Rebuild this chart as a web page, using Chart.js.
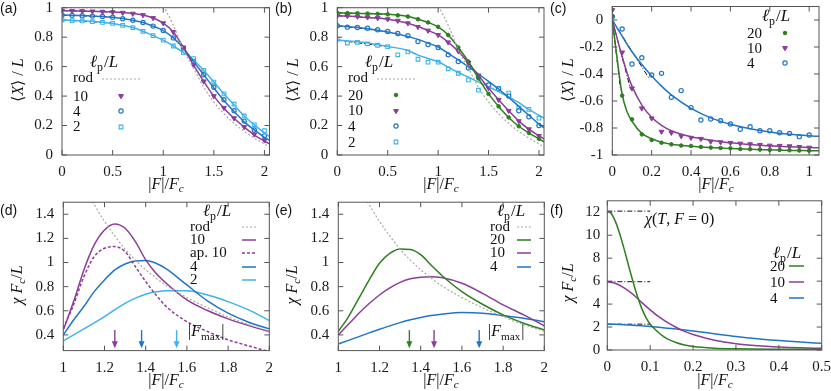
<!DOCTYPE html>
<html>
<head>
<meta charset="utf-8">
<script src="https://cdn.jsdelivr.net/npm/chart.js@4.4.1/dist/chart.umd.min.js"></script>
<style>
  body { margin: 0; background: #fff; width: 831px; height: 391px; position: relative; overflow: hidden; font-family: "Liberation Serif", serif; color: #111; }
  canvas { position: absolute; }
  .lab { position: absolute; font: 14px "Liberation Sans", sans-serif; }
  .ttl { position: absolute; font-size: 16px; white-space: nowrap; transform: translate(-50%, -50%); }
  .ttl.v { transform: translate(-50%, -50%) rotate(-90deg); }
  sub { font-size: 70%; vertical-align: -3px; line-height: 0; }
</style>
</head>
<body>
<canvas id="pa" width="275" height="195" style="left:0;top:0"></canvas>
<canvas id="pb" width="275" height="195" style="left:275px;top:0"></canvas>
<canvas id="pc" width="281" height="195" style="left:550px;top:0"></canvas>
<canvas id="pd" width="275" height="196" style="left:0;top:195px"></canvas>
<canvas id="pe" width="275" height="196" style="left:275px;top:195px"></canvas>
<canvas id="pf" width="281" height="196" style="left:550px;top:195px"></canvas>

<div class="lab" style="left:0;top:0">(a)</div>
<div class="lab" style="left:275px;top:0">(b)</div>
<div class="lab" style="left:550px;top:0">(c)</div>
<div class="lab" style="left:0;top:202px">(d)</div>
<div class="lab" style="left:275px;top:202px">(e)</div>
<div class="lab" style="left:550px;top:202px">(f)</div>

<div class="ttl v" style="left:17px;top:80px">⟨<i>X</i>⟩ / <i>L</i></div>
<div class="ttl v" style="left:292px;top:80px">⟨<i>X</i>⟩ / <i>L</i></div>
<div class="ttl v" style="left:567px;top:80px">⟨<i>X</i>⟩ / <i>L</i></div>
<div class="ttl v" style="left:17px;top:285px"><i>χ F<sub>c</sub></i>/<i>L</i></div>
<div class="ttl v" style="left:292px;top:285px"><i>χ F<sub>c</sub></i>/<i>L</i></div>
<div class="ttl v" style="left:568px;top:283px"><i>χ F<sub>c</sub></i>/<i>L</i></div>
<div class="ttl" style="left:166px;top:184px">|<i>F</i>|/<i>F<sub>c</sub></i></div>
<div class="ttl" style="left:441px;top:184px">|<i>F</i>|/<i>F<sub>c</sub></i></div>
<div class="ttl" style="left:716px;top:184px">|<i>F</i>|/<i>F<sub>c</sub></i></div>
<div class="ttl" style="left:166px;top:380px">|<i>F</i>|/<i>F<sub>c</sub></i></div>
<div class="ttl" style="left:441px;top:380px">|<i>F</i>|/<i>F<sub>c</sub></i></div>
<div class="ttl" style="left:715px;top:380px">|<i>F</i>|/<i>F<sub>c</sub></i></div>

<script>
// ---------- data ----------
// (a), (b): simulation points every 0.1 and fitted curves
const xMC = [0,0.1,0.2,0.3,0.4,0.5,0.6,0.7,0.8,0.9,1.0,1.1,1.2,1.3,1.4,1.5,1.6,1.7,1.8,1.9,2.0];
const aMC10 = [0.98,0.978,0.977,0.975,0.973,0.97,0.966,0.96,0.95,0.93,0.895,0.835,0.73,0.61,0.50,0.40,0.32,0.25,0.19,0.14,0.10];
const aMC4 = [0.95,0.948,0.946,0.943,0.94,0.935,0.925,0.915,0.9,0.875,0.845,0.795,0.725,0.635,0.545,0.46,0.375,0.30,0.23,0.17,0.13];
const aMC2 = [0.917,0.913,0.91,0.905,0.9,0.893,0.88,0.865,0.84,0.81,0.78,0.74,0.695,0.655,0.575,0.495,0.415,0.345,0.265,0.205,0.165];
const xFit = [0,0.25,0.5,0.7,0.8,0.9,1.0,1.1,1.2,1.3,1.4,1.5,1.6,1.7,1.8,1.9,2.0,2.05];
const aFit10 = [0.98,0.976,0.97,0.96,0.95,0.93,0.895,0.835,0.73,0.61,0.50,0.40,0.318,0.25,0.19,0.135,0.095,0.075];
const aFit4 = [0.95,0.946,0.935,0.915,0.9,0.875,0.845,0.795,0.725,0.635,0.545,0.455,0.37,0.295,0.225,0.17,0.12,0.10];
const aFit2 = [0.917,0.909,0.893,0.865,0.84,0.81,0.78,0.74,0.695,0.645,0.575,0.495,0.415,0.34,0.265,0.205,0.15,0.125];
const xRod = [0,0.5,1.0,1.05,1.1,1.15,1.2,1.25,1.3,1.4,1.5,1.6,1.7,1.8,1.9,2.0,2.05];
const rodX = [1,1,1,0.95,0.88,0.80,0.71,0.65,0.59,0.46,0.36,0.28,0.215,0.16,0.115,0.075,0.055];
const xTan = [0,0.5];
const aTan10 = [0.98,0.972], aTan4 = [0.95,0.937], aTan2 = [0.917,0.895];

const bMC20 = [0.965,0.963,0.962,0.96,0.958,0.955,0.948,0.94,0.922,0.9,0.87,0.815,0.73,0.635,0.52,0.415,0.33,0.255,0.195,0.15,0.11];
const bMC10 = [0.946,0.944,0.94,0.935,0.93,0.922,0.912,0.895,0.87,0.845,0.815,0.765,0.705,0.625,0.54,0.455,0.375,0.30,0.23,0.175,0.13];
const bMC4 = [0.878,0.868,0.866,0.86,0.85,0.838,0.825,0.81,0.77,0.75,0.73,0.68,0.635,0.59,0.53,0.475,0.45,0.40,0.30,0.26,0.20];
const bMC2 = [0.785,0.76,0.765,0.755,0.745,0.735,0.68,0.70,0.65,0.63,0.63,0.585,0.555,0.51,0.44,0.47,0.45,0.42,0.32,0.31,0.25];
const bFit20 = [0.965,0.961,0.955,0.94,0.922,0.9,0.87,0.815,0.73,0.635,0.52,0.415,0.33,0.255,0.195,0.15,0.11,0.09];
const bFit10 = [0.946,0.936,0.922,0.895,0.872,0.845,0.815,0.765,0.705,0.625,0.54,0.455,0.375,0.30,0.23,0.175,0.13,0.11];
const bFit4 = [0.878,0.862,0.835,0.805,0.785,0.76,0.733,0.69,0.645,0.598,0.55,0.5,0.448,0.39,0.33,0.27,0.21,0.185];
const bFit2 = [0.78,0.765,0.737,0.71,0.678,0.655,0.633,0.596,0.56,0.528,0.495,0.463,0.43,0.395,0.355,0.31,0.27,0.25];
const bTan20 = [0.965,0.955], bTan10 = [0.946,0.925], bTan4 = [0.878,0.837], bTan2 = [0.78,0.735];

// (c): negative force
const xC = [0,0.05,0.1,0.15,0.2,0.25,0.3,0.35,0.4,0.45,0.5,0.55,0.6,0.65,0.7,0.75,0.8,0.85,0.9,0.95,1.0];
const cMC20 = [0.03,-0.56,-0.736,-0.847,-0.889,-0.909,-0.921,-0.93,-0.933,-0.94,-0.945,-0.948,-0.95,-0.955,-0.957,-0.96,-0.962,-0.963,-0.965,-0.967,-0.968];
const cMC10 = [0.074,-0.24,-0.506,-0.654,-0.728,-0.827,-0.835,-0.86,-0.872,-0.88,-0.9,-0.905,-0.91,-0.915,-0.92,-0.925,-0.93,-0.932,-0.935,-0.94,-0.945];
const cMC4 = [0.025,-0.067,-0.326,-0.279,-0.407,-0.395,-0.573,-0.523,-0.649,-0.741,-0.733,-0.746,-0.77,-0.81,-0.79,-0.82,-0.82,-0.835,-0.84,-0.864,-0.852];
const xCfit = [0,0.025,0.05,0.075,0.1,0.15,0.2,0.25,0.3,0.4,0.5,0.6,0.7,0.8,0.9,1.0,1.05];
const cFit20 = [0,-0.29,-0.55,-0.68,-0.75,-0.84,-0.88,-0.905,-0.92,-0.935,-0.945,-0.952,-0.958,-0.962,-0.966,-0.968,-0.969];
const cFit10 = [0,-0.14,-0.27,-0.39,-0.49,-0.63,-0.72,-0.78,-0.82,-0.865,-0.89,-0.91,-0.922,-0.932,-0.938,-0.944,-0.946];
const cFit4 = [0,-0.06,-0.12,-0.18,-0.235,-0.33,-0.415,-0.49,-0.555,-0.655,-0.725,-0.772,-0.805,-0.83,-0.847,-0.858,-0.862];
const xTan20 = [0,0.042], cTan20 = [0,-0.52];
const xTan10 = [0,0.093], cTan10 = [0,-0.514];
const xTan4 = [0,0.19], cTan4 = [0,-0.44];

// (d), (e): susceptibility
const xD = [1.0,1.05,1.1,1.15,1.2,1.25,1.3,1.35,1.4,1.45,1.5,1.6,1.7,1.8,1.9,2.0];
const d10 = [0.44,0.676,0.939,1.146,1.27,1.32,1.284,1.173,1.022,0.911,0.828,0.69,0.602,0.533,0.477,0.428];
const dAp10 = [0.455,0.65,0.883,1.049,1.118,1.132,1.09,0.966,0.842,0.731,0.635,0.51,0.428,0.359,0.309,0.262];
const d4 = [0.40,0.524,0.635,0.759,0.856,0.939,0.988,1.013,1.016,0.994,0.947,0.814,0.682,0.58,0.505,0.45];
const d2 = [0.35,0.40,0.45,0.50,0.552,0.61,0.662,0.705,0.737,0.757,0.767,0.767,0.731,0.676,0.607,0.519];
const e20 = [0.428,0.552,0.704,0.856,0.994,1.075,1.112,1.108,1.065,0.98,0.897,0.759,0.654,0.566,0.497,0.441];
const e10 = [0.40,0.49,0.58,0.66,0.731,0.79,0.836,0.865,0.878,0.883,0.875,0.828,0.745,0.649,0.566,0.475];
const e4 = [0.325,0.355,0.386,0.417,0.447,0.475,0.502,0.525,0.544,0.56,0.571,0.585,0.58,0.56,0.538,0.51];
const xRodD = [1.12,1.15,1.2,1.25,1.3,1.35,1.4,1.5,1.6,1.7,1.8,1.9,2.0];
const rodD = [1.56,1.48,1.34,1.22,1.11,1.02,0.94,0.81,0.71,0.625,0.55,0.485,0.43];
const fmaxD = [1.25,1.38,1.55];
const fmaxE = [1.345,1.465,1.684];

// (f): small forces
const xF20 = [0,0.01,0.02,0.03,0.04,0.05,0.06,0.07,0.08,0.09,0.1,0.11,0.12,0.13,0.14,0.16,0.18,0.2,0.25,0.3,0.4,0.5];
const f20 = [12.1,11.85,11.1,10.0,8.7,7.3,5.95,4.7,3.65,2.85,2.25,1.85,1.5,1.2,0.97,0.65,0.43,0.3,0.16,0.11,0.07,0.05];
const xF = [0,0.02,0.04,0.06,0.08,0.1,0.12,0.14,0.16,0.18,0.2,0.25,0.3,0.35,0.4,0.45,0.5];
const f10 = [5.95,5.8,5.4,4.85,4.15,3.5,2.9,2.4,1.98,1.62,1.35,0.85,0.55,0.37,0.26,0.19,0.15];
const f4 = [2.25,2.24,2.21,2.16,2.11,2.05,1.98,1.9,1.83,1.75,1.66,1.42,1.18,0.98,0.82,0.69,0.58];
const xZero = [0,0.1];
const fZero20 = [12.1,12.1], fZero10 = [5.95,5.95], fZero4 = [2.25,2.25];

// ---------- styles ----------
const PURPLE = "#8b3d99", BLUE = "#1f76c6", LIGHT = "#3fb3ea", GREEN = "#2d7f20", ROD = "#a9a9a9";
const FONT = '"Liberation Serif"';

const zip = (xs, ys) => xs.map((x, i) => ({ x, y: ys[i] }));

function curve(xs, ys, color, dash) {
  return { data: zip(xs, ys), showLine: true, pointRadius: 0, borderColor: color, borderWidth: 1.5,
    borderDash: dash || [], cubicInterpolationMode: "monotone" };
}
function rod(xs, ys) {
  return { data: zip(xs, ys), showLine: true, pointRadius: 0, borderColor: ROD, borderWidth: 1.2,
    borderDash: [2, 2], cubicInterpolationMode: "monotone" };
}
function tangent(xs, ys) {
  return { data: zip(xs, ys), showLine: true, pointRadius: 0, borderColor: "#111", borderWidth: 1,
    borderDash: [5, 2, 1, 2] };
}
function pts(xs, ys, color, style) {
  const d = { data: zip(xs, ys), showLine: false, borderColor: color, pointBorderWidth: 1, pointRadius: 2.3 };
  if (style === "tri") Object.assign(d, { pointStyle: "triangle", rotation: 180, backgroundColor: color, pointRadius: 2.8 });
  if (style === "dot") Object.assign(d, { pointStyle: "circle", backgroundColor: color, pointRadius: 1.8 });
  if (style === "ring") Object.assign(d, { pointStyle: "circle", backgroundColor: "#fff", pointBorderWidth: 1.2, pointRadius: 2.1 });
  if (style === "box") Object.assign(d, { pointStyle: "rect", backgroundColor: "#fff", pointBorderWidth: 1.1, pointRadius: 2.6 });
  return d;
}

// ---------- text helper: parts = [text, kind], kind r/i/s ----------
function rich(ctx, parts, x, y, size) {
  let cx = x;
  for (const [t, k] of parts) {
    const sub = k === "s";
    const sz = sub ? size * 0.7 : size;
    ctx.font = (k === "i" ? "italic " : "") + sz + "px " + FONT;
    ctx.fillText(t, cx, sub ? y + size * 0.22 : y);
    cx += ctx.measureText(t).width + (k === "s" ? 1 : 0);
  }
}
const LP = [["ℓ", "i"], ["p", "s"], ["/", "r"], ["L", "i"]];
const FMAX = [["|", "r"], ["F", "i"], ["max", "s"], ["|", "r"]];

const decos = {};

const decoPlugin = {
  id: "deco",
  afterDatasetsDraw(chart) {
    const ctx = chart.ctx, a = chart.chartArea, sx = chart.scales.x, sy = chart.scales.y;
    const d = decos[chart.canvas.id] || {};
    ctx.save();
    // frame with inward ticks on all sides
    ctx.strokeStyle = "#555";
    ctx.lineWidth = 1;
    ctx.setLineDash([]);
    ctx.strokeRect(a.left, a.top, a.right - a.left, a.bottom - a.top);
    ctx.beginPath();
    for (const t of sx.ticks) {
      if (t.value < sx.min || t.value > sx.max) continue;
      const p = sx.getPixelForValue(t.value);
      ctx.moveTo(p, a.bottom); ctx.lineTo(p, a.bottom - 5);
      ctx.moveTo(p, a.top); ctx.lineTo(p, a.top + 5);
    }
    for (const t of sy.ticks) {
      if (t.value < sy.min || t.value > sy.max) continue;
      const p = sy.getPixelForValue(t.value);
      ctx.moveTo(a.left, p); ctx.lineTo(a.left + 5, p);
      ctx.moveTo(a.right, p); ctx.lineTo(a.right - 5, p);
    }
    ctx.stroke();

    // arrows marking |F_max|
    if (d.arrows) {
      const ar = d.arrows;
      ar.xs.forEach((v, i) => {
        const px = sx.getPixelForValue(v), y0 = sy.getPixelForValue(ar.y0), y1 = sy.getPixelForValue(ar.y1);
        ctx.strokeStyle = ar.colors[i]; ctx.fillStyle = ar.colors[i]; ctx.lineWidth = 1.4;
        ctx.beginPath(); ctx.moveTo(px, y0); ctx.lineTo(px, y1 - 6); ctx.stroke();
        ctx.beginPath(); ctx.moveTo(px - 3, y1 - 7); ctx.lineTo(px, y1); ctx.lineTo(px + 3, y1 - 7); ctx.closePath(); ctx.fill();
      });
    }

    // free text
    ctx.fillStyle = "#111";
    ctx.textBaseline = "alphabetic";
    ctx.textAlign = "left";
    for (const t of (d.texts || [])) rich(ctx, t[0], t[1], t[2], 16);

    // legend
    if (d.legend) {
      const lg = d.legend;
      ctx.fillStyle = "#111";
      rich(ctx, LP, lg.head[0], lg.head[1], 17);
      for (const [label, idx, base, sy0, kind] of lg.rows) {
        ctx.fillStyle = "#111";
        ctx.font = "15px " + FONT;
        ctx.fillText(label, lg.lx, base);
        const ds = chart.data.datasets[idx];
        if (kind === "line") {
          ctx.strokeStyle = ds.borderColor; ctx.lineWidth = ds.borderWidth;
          ctx.setLineDash(ds.borderDash || []);
          ctx.beginPath(); ctx.moveTo(lg.sx[0], sy0); ctx.lineTo(lg.sx[1], sy0); ctx.stroke();
          ctx.setLineDash([]);
        } else {
          const o = chart.getDatasetMeta(idx).data[0].options;
          ctx.fillStyle = o.backgroundColor; ctx.strokeStyle = o.borderColor; ctx.lineWidth = o.borderWidth;
          Chart.helpers.drawPoint(ctx, o, (lg.sx[0] + lg.sx[1]) / 2, sy0);
        }
      }
    }
    ctx.restore();
  }
};

function noPad(s) {
  s.paddingTop = 0; s.paddingBottom = 0; s.paddingLeft = 0; s.paddingRight = 0;
}

function axis(min, max, step, pad, fit) {
  return {
    type: "linear", min, max, afterFit: fit,
    grid: { display: false, drawTicks: false }, border: { display: false },
    ticks: { stepSize: step, includeBounds: false, padding: pad, maxRotation: 0, autoSkip: false,
      color: "#1a1a1a", font: { family: "Liberation Serif", size: 15 },
      callback: v => String(Math.round(v * 100) / 100) }
  };
}

function panel(id, area, xr, yr, datasets, deco) {
  const cv = document.getElementById(id);
  const W = cv.width, H = cv.height;
  decos[id] = deco;
  return new Chart(cv, {
    type: "scatter",
    data: { datasets },
    options: {
      responsive: false, animation: false, events: [],
      layout: { autoPadding: false, padding: { left: 0, top: area[2], right: W - area[1], bottom: 0 } },
      plugins: { legend: { display: false }, tooltip: { enabled: false } },
      scales: {
        x: axis(xr[0], xr[1], xr[2], 8, s => { s.height = H - area[3]; noPad(s); }),
        y: axis(yr[0], yr[1], yr[2], yr[3], s => { s.width = area[0]; noPad(s); })
      }
    },
    plugins: [decoPlugin]
  });
}

// (a)
panel("pa", [62, 269.5, 7.7, 155], [0, 2.05, 0.5], [0, 1, 0.2, 9], [
  rod(xRod, rodX),
  curve(xFit, aFit10, PURPLE), curve(xFit, aFit4, BLUE), curve(xFit, aFit2, LIGHT),
  pts(xMC, aMC10, PURPLE, "tri"), pts(xMC, aMC4, BLUE, "ring"), pts(xMC, aMC2, LIGHT, "box"),
  tangent(xTan, aTan10), tangent(xTan, aTan4), tangent(xTan, aTan2)
], {
  legend: { head: [90, 67], lx: 73, sx: [102, 140], rows: [
    ["rod", 0, 82, 79, "line"], ["10", 4, 101, 96, "pt"], ["4", 5, 116, 111, "pt"], ["2", 6, 131, 127, "pt"]
  ] }
});

// (b)
panel("pb", [62.3, 269, 7.7, 155], [0, 2.05, 0.5], [0, 1, 0.2, 9], [
  rod(xRod, rodX),
  curve(xFit, bFit20, GREEN), curve(xFit, bFit10, PURPLE), curve(xFit, bFit4, BLUE), curve(xFit, bFit2, LIGHT),
  pts(xMC, bMC20, GREEN, "dot"), pts(xMC, bMC10, PURPLE, "tri"), pts(xMC, bMC4, BLUE, "ring"), pts(xMC, bMC2, LIGHT, "box"),
  tangent(xTan, bTan20), tangent(xTan, bTan10), tangent(xTan, bTan4), tangent(xTan, bTan2)
], {
  legend: { head: [90, 67], lx: 73, sx: [102, 140], rows: [
    ["rod", 0, 82, 79, "line"], ["20", 5, 100, 95, "pt"], ["10", 6, 115, 111, "pt"], ["4", 7, 131, 126, "pt"], ["2", 8, 147, 142, "pt"]
  ] }
});

// (c)
panel("pc", [62.3, 269, 6.5, 155], [0, 1.05, 0.2], [-1, 0.1, 0.2, 9], [
  curve(xCfit, cFit20, GREEN), curve(xCfit, cFit10, PURPLE), curve(xCfit, cFit4, BLUE),
  pts(xC, cMC20, GREEN, "dot"), pts(xC, cMC10, PURPLE, "tri"), pts(xC, cMC4, BLUE, "ring"),
  tangent(xTan20, cTan20), tangent(xTan10, cTan10), tangent(xTan4, cTan4)
], {
  legend: { head: [212, 21], lx: 197, sx: [228, 242], rows: [
    ["20", 3, 38, 33, "pt"], ["10", 4, 53, 48, "pt"], ["4", 5, 68, 63, "pt"]
  ] }
});

// (d)
panel("pd", [63.3, 269.3, 7.2, 155.6], [1, 2, 0.2], [0.27, 1.5, 0.2, 9], [
  rod(xRodD, rodD),
  curve(xD, d10, PURPLE), curve(xD, dAp10, PURPLE, [3, 2]), curve(xD, d4, BLUE), curve(xD, d2, LIGHT)
], {
  legend: { head: [203, 21], lx: 190, sx: [242, 256], rows: [
    ["rod", 0, 36, 32, "line"], ["10", 1, 49, 45, "line"], ["ap. 10", 2, 62, 58, "line"], ["4", 3, 76, 72, "line"], ["2", 4, 89, 85, "line"]
  ] },
  arrows: { xs: fmaxD, colors: [PURPLE, BLUE, LIGHT], y0: 0.44, y1: 0.29 },
  texts: [[FMAX, 188, 141]]
});

// (e)
panel("pe", [63.3, 269.3, 7.2, 155.6], [1, 2, 0.2], [0.27, 1.5, 0.2, 9], [
  rod(xRodD, rodD),
  curve(xD, e20, GREEN), curve(xD, e10, PURPLE), curve(xD, e4, BLUE)
], {
  legend: { head: [222, 21], lx: 215, sx: [242, 256], rows: [
    ["rod", 0, 36, 32, "line"], ["20", 1, 49, 45, "line"], ["10", 2, 62, 58, "line"], ["4", 3, 76, 72, "line"]
  ] },
  arrows: { xs: fmaxE, colors: [GREEN, PURPLE, BLUE], y0: 0.44, y1: 0.29 },
  texts: [[FMAX, 213, 141]]
});

// (f)
panel("pf", [57.3, 271.7, 5.8, 155], [0, 0.5, 0.1], [0, 13, 2, 7], [
  curve(xF20, f20, GREEN), curve(xF, f10, PURPLE), curve(xF, f4, BLUE),
  tangent(xZero, fZero20), tangent(xZero, fZero10), tangent(xZero, fZero4)
], {
  legend: { head: [223, 63], lx: 220, sx: [239, 254], rows: [
    ["20", 0, 76, 71, "line"], ["10", 1, 92, 87, "line"], ["4", 2, 108, 103, "line"]
  ] },
  texts: [[[["χ", "i"], ["(", "r"], ["T", "i"], [", ", "r"], ["F", "i"], [" = 0)", "r"]], 95, 29]]
});
</script>
</body>
</html>
